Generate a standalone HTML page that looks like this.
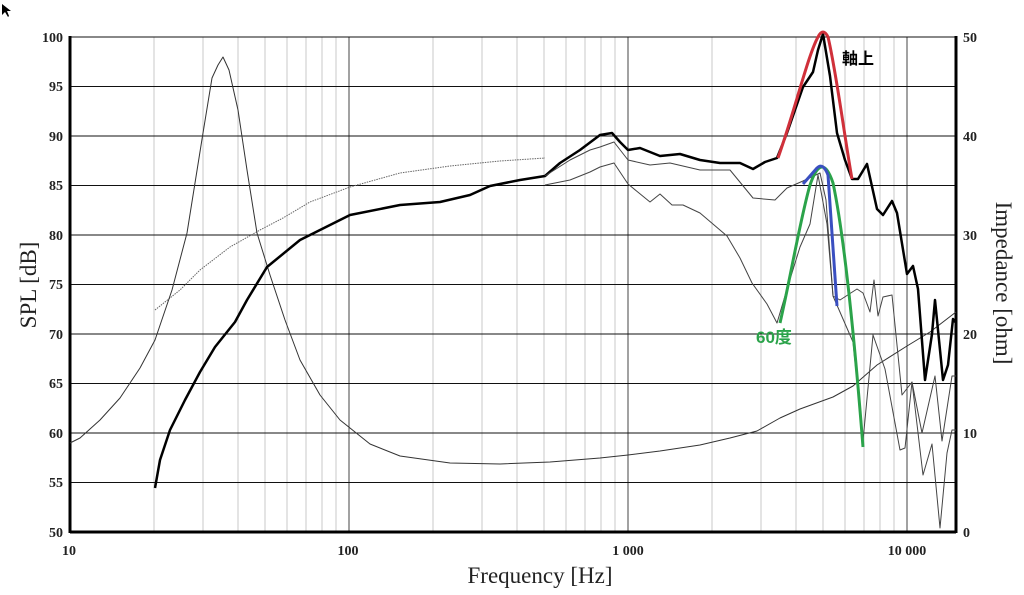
<!DOCTYPE html>
<html><head><meta charset="utf-8"><style>
body{margin:0;background:#fff}
svg{display:block}
.t{font-family:"Liberation Serif",serif;font-weight:bold;font-size:14px;fill:#222}
</style></head><body>
<svg width="1024" height="595" viewBox="0 0 1024 595" xmlns="http://www.w3.org/2000/svg">
<polygon points="2,4 2,15 5,12 8,17 9,16 7,11 11,11" fill="#000"/>
<g stroke="#c8c8c8" stroke-width="1">
<line x1="154" y1="37" x2="154" y2="532"/><line x1="203" y1="37" x2="203" y2="532"/><line x1="238" y1="37" x2="238" y2="532"/><line x1="265" y1="37" x2="265" y2="532"/><line x1="287" y1="37" x2="287" y2="532"/><line x1="306" y1="37" x2="306" y2="532"/><line x1="322" y1="37" x2="322" y2="532"/><line x1="336" y1="37" x2="336" y2="532"/>
<line x1="433" y1="37" x2="433" y2="532"/><line x1="482" y1="37" x2="482" y2="532"/><line x1="517" y1="37" x2="517" y2="532"/><line x1="544" y1="37" x2="544" y2="532"/><line x1="566" y1="37" x2="566" y2="532"/><line x1="585" y1="37" x2="585" y2="532"/><line x1="601" y1="37" x2="601" y2="532"/><line x1="615" y1="37" x2="615" y2="532"/>
<line x1="712" y1="37" x2="712" y2="532"/><line x1="761" y1="37" x2="761" y2="532"/><line x1="796" y1="37" x2="796" y2="532"/><line x1="823" y1="37" x2="823" y2="532"/><line x1="845" y1="37" x2="845" y2="532"/><line x1="864" y1="37" x2="864" y2="532"/><line x1="880" y1="37" x2="880" y2="532"/><line x1="894" y1="37" x2="894" y2="532"/>
</g>
<g stroke="#444" stroke-width="1">
<line x1="349" y1="37" x2="349" y2="532"/><line x1="628" y1="37" x2="628" y2="532"/><line x1="907" y1="37" x2="907" y2="532"/>
</g>
<g stroke="#111" stroke-width="1">
<line x1="70" y1="37" x2="956" y2="37"/><line x1="70" y1="86.5" x2="956" y2="86.5"/><line x1="70" y1="136" x2="956" y2="136"/><line x1="70" y1="185.5" x2="956" y2="185.5"/><line x1="70" y1="235" x2="956" y2="235"/><line x1="70" y1="284.5" x2="956" y2="284.5"/><line x1="70" y1="334" x2="956" y2="334"/><line x1="70" y1="383.5" x2="956" y2="383.5"/><line x1="70" y1="433" x2="956" y2="433"/><line x1="70" y1="482.5" x2="956" y2="482.5"/>
</g>
<line x1="70" y1="532" x2="956" y2="532" stroke="#000" stroke-width="3"/>
<line x1="70" y1="36" x2="70" y2="533" stroke="#000" stroke-width="3"/>
<line x1="956" y1="36" x2="956" y2="533" stroke="#000" stroke-width="3"/>
<g class="t" text-anchor="end">
<text x="63" y="42">100</text><text x="63" y="91">95</text><text x="63" y="141">90</text><text x="63" y="190">85</text><text x="63" y="240">80</text><text x="63" y="289">75</text><text x="63" y="339">70</text><text x="63" y="388">65</text><text x="63" y="438">60</text><text x="63" y="487">55</text><text x="63" y="537">50</text>
</g>
<g class="t">
<text x="963" y="42">50</text><text x="963" y="141">40</text><text x="963" y="240">30</text><text x="963" y="339">20</text><text x="963" y="438">10</text><text x="963" y="537">0</text>
</g>
<g class="t" text-anchor="middle">
<text x="69" y="555">10</text><text x="348" y="555">100</text><text x="628" y="555">1 000</text><text x="907" y="555">10 000</text>
</g>
<text x="540" y="583" text-anchor="middle" font-family="Liberation Serif,serif" font-size="23" fill="#222">Frequency [Hz]</text>
<text transform="translate(36,285) rotate(-90)" text-anchor="middle" font-family="Liberation Serif,serif" font-size="23" fill="#222">SPL [dB]</text>
<text transform="translate(996,283) rotate(90)" text-anchor="middle" font-family="Liberation Serif,serif" font-size="23" fill="#222">Impedance [ohm]</text>
<g fill="none" stroke-linejoin="round">
<polyline stroke="#666" stroke-width="1" stroke-dasharray="1.5,1" points="155,310 180,290 200,270 230,247 260,230 283,218 310,202 350,187 400,173 450,166 500,161 545,158"/>
<polyline stroke="#333" stroke-width="1" points="70,443 80,438 100,420 120,398 140,368 155,340 172,290 187,233 203,133 212,78 218,65 223,57 229,70 238,110 247,170 257,233 270,275 285,320 300,360 320,395 340,420 370,444 400,456 450,463 500,464 550,462 600,458 628,455 660,451 700,445 730,438 757,431 780,418 800,409 833,397 853,386 877,365 907,346 930,332 956,312"/>
<polyline stroke="#000" stroke-width="2.5" points="155,488 160,460 170,430 185,400 200,372 215,347 235,322 247,300 267,267 300,240 350,215 400,205 440,202 470,195 490,186 520,180 545,176 560,163 580,150 600,135 612,133 620,142 628,150 640,148 660,156 680,154 700,160 720,163 740,163 753,169 765,162 777,158 787,133 803,87 813,72 818,50 823,34 830,76 837,133 845,160 852,179 858,179 867,164 877,209 883,215 892,201 897,213 907,274 913,266 918,289 925,380 932,334 935,300 943,380 948,365 953,319 956,323"/>
<polyline stroke="#444" stroke-width="1" points="545,176 570,160 590,150 600,147 614,142 628,160 650,165 670,163 700,170 730,170 753,198 775,200 787,188 803,181 820,173 826,200 833,296 840,300 857,289 863,293 870,312 874,280 878,316 883,297 892,295 902,395 912,382 922,433 935,376 942,441 952,376 956,376"/>
<polyline stroke="#444" stroke-width="1" points="545,185 570,180 590,172 600,167 614,163 628,184 650,202 660,194 672,205 683,205 700,213 727,236 740,258 752,283 767,304 777,323 787,289 800,247 810,224 818,175 827,224 833,296 853,342 863,441 873,335 885,369 900,450 905,448 912,382 923,475 932,444 940,528 947,453 952,430 956,430"/>
<path stroke="#d0303a" stroke-width="3" d="M778,158 C795,110 808,55 818,37 Q823,27 828,37 C836,70 845,140 852,179"/>
<path stroke="#2ba34a" stroke-width="3" d="M780,323 C790,280 800,220 810,185 Q822,150 833,183 C843,230 853,320 863,447"/>
<path stroke="#3a4fc0" stroke-width="3" d="M803,184 L817,168 Q823,162 828,175 L837,306"/>
</g>
<text x="842" y="64" font-family="Liberation Sans,'Noto Sans CJK JP',sans-serif" font-weight="bold" font-size="16" fill="#000">軸上</text>
<text x="756" y="343" font-family="Liberation Sans,'Noto Sans CJK JP',sans-serif" font-weight="bold" font-size="17" fill="#2ba34a">60度</text>
</svg>
</body></html>
